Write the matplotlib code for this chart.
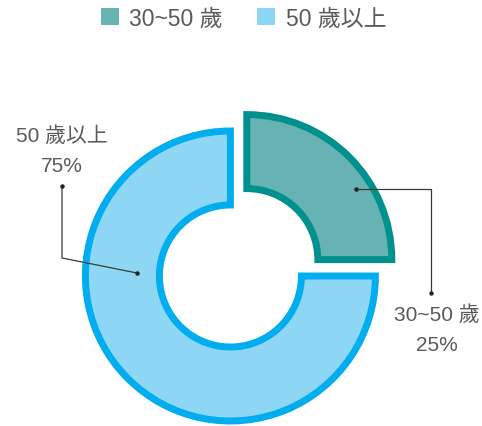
import matplotlib
matplotlib.use('Agg')
import matplotlib.pyplot as plt
from matplotlib.patches import Patch

plt.rcParams['font.family'] = ['Liberation Sans', 'Noto Sans CJK TC', 'DejaVu Sans']

# data
labels = ['30~50 歲', '50 歲以上']
values = [25, 75]
fills = ['#67b2b3', '#8dd7f5']
edges = ['#00918e', '#00adef']
text_color = '#5a5a5a'

W, H = 482, 427
fig = plt.figure(figsize=(W / 100, H / 100), dpi=100)
ax = fig.add_axes([0, 0, 1, 1])
ax.set_xlim(0, W)
ax.set_ylim(0, H)
ax.set_aspect('equal')
ax.axis('off')

cx, cy = 238.6, H - 268.8
radius = 145
wedges, _ = ax.pie(values, startangle=90, counterclock=False,
                   radius=radius, center=(cx, cy), explode=[11.6, 11.6],
                   colors=fills,
                   wedgeprops=dict(width=74, linewidth=5.0, joinstyle='miter'))
for w, ec in zip(wedges, edges):
    w.set_edgecolor(ec)
ax.set_xlim(0, W)
ax.set_ylim(0, H)

total = sum(values)
# leader lines (pixel coords from top)
leaders = [
    [(356, 190), (431, 190), (431, 294)],
    [(137, 274), (62, 259), (62, 187)],
]
label_pos = [(437, 315), (62, 136)]
for i, pts in enumerate(leaders):
    xs = [p[0] for p in pts]
    ys = [H - p[1] for p in pts]
    ax.plot(xs, ys, color='#3a3a3a', lw=0.9, solid_capstyle='butt')
    ax.plot([xs[0], xs[-1]], [ys[0], ys[-1]], 'o', color='#222222', ms=2.2)
    lx, ly = label_pos[i]
    pct = '{:.0f}%'.format(100 * values[i] / total)
    ax.text(lx, H - ly, labels[i], ha='center', va='center',
            fontsize=15, color=text_color)
    ax.text(lx, H - ly - 31, pct, ha='center', va='center',
            fontsize=15, color=text_color)

handles = [Patch(facecolor=f, edgecolor='none') for f in fills]
fig.legend(handles, labels, loc='center', bbox_to_anchor=(0.505, 1 - 19 / H),
           ncol=2, frameon=False, fontsize=16.5, labelcolor=text_color,
           handlelength=0.8, handleheight=0.8, handletextpad=0.45,
           columnspacing=1.5)

fig.savefig('out.png', dpi=100)
